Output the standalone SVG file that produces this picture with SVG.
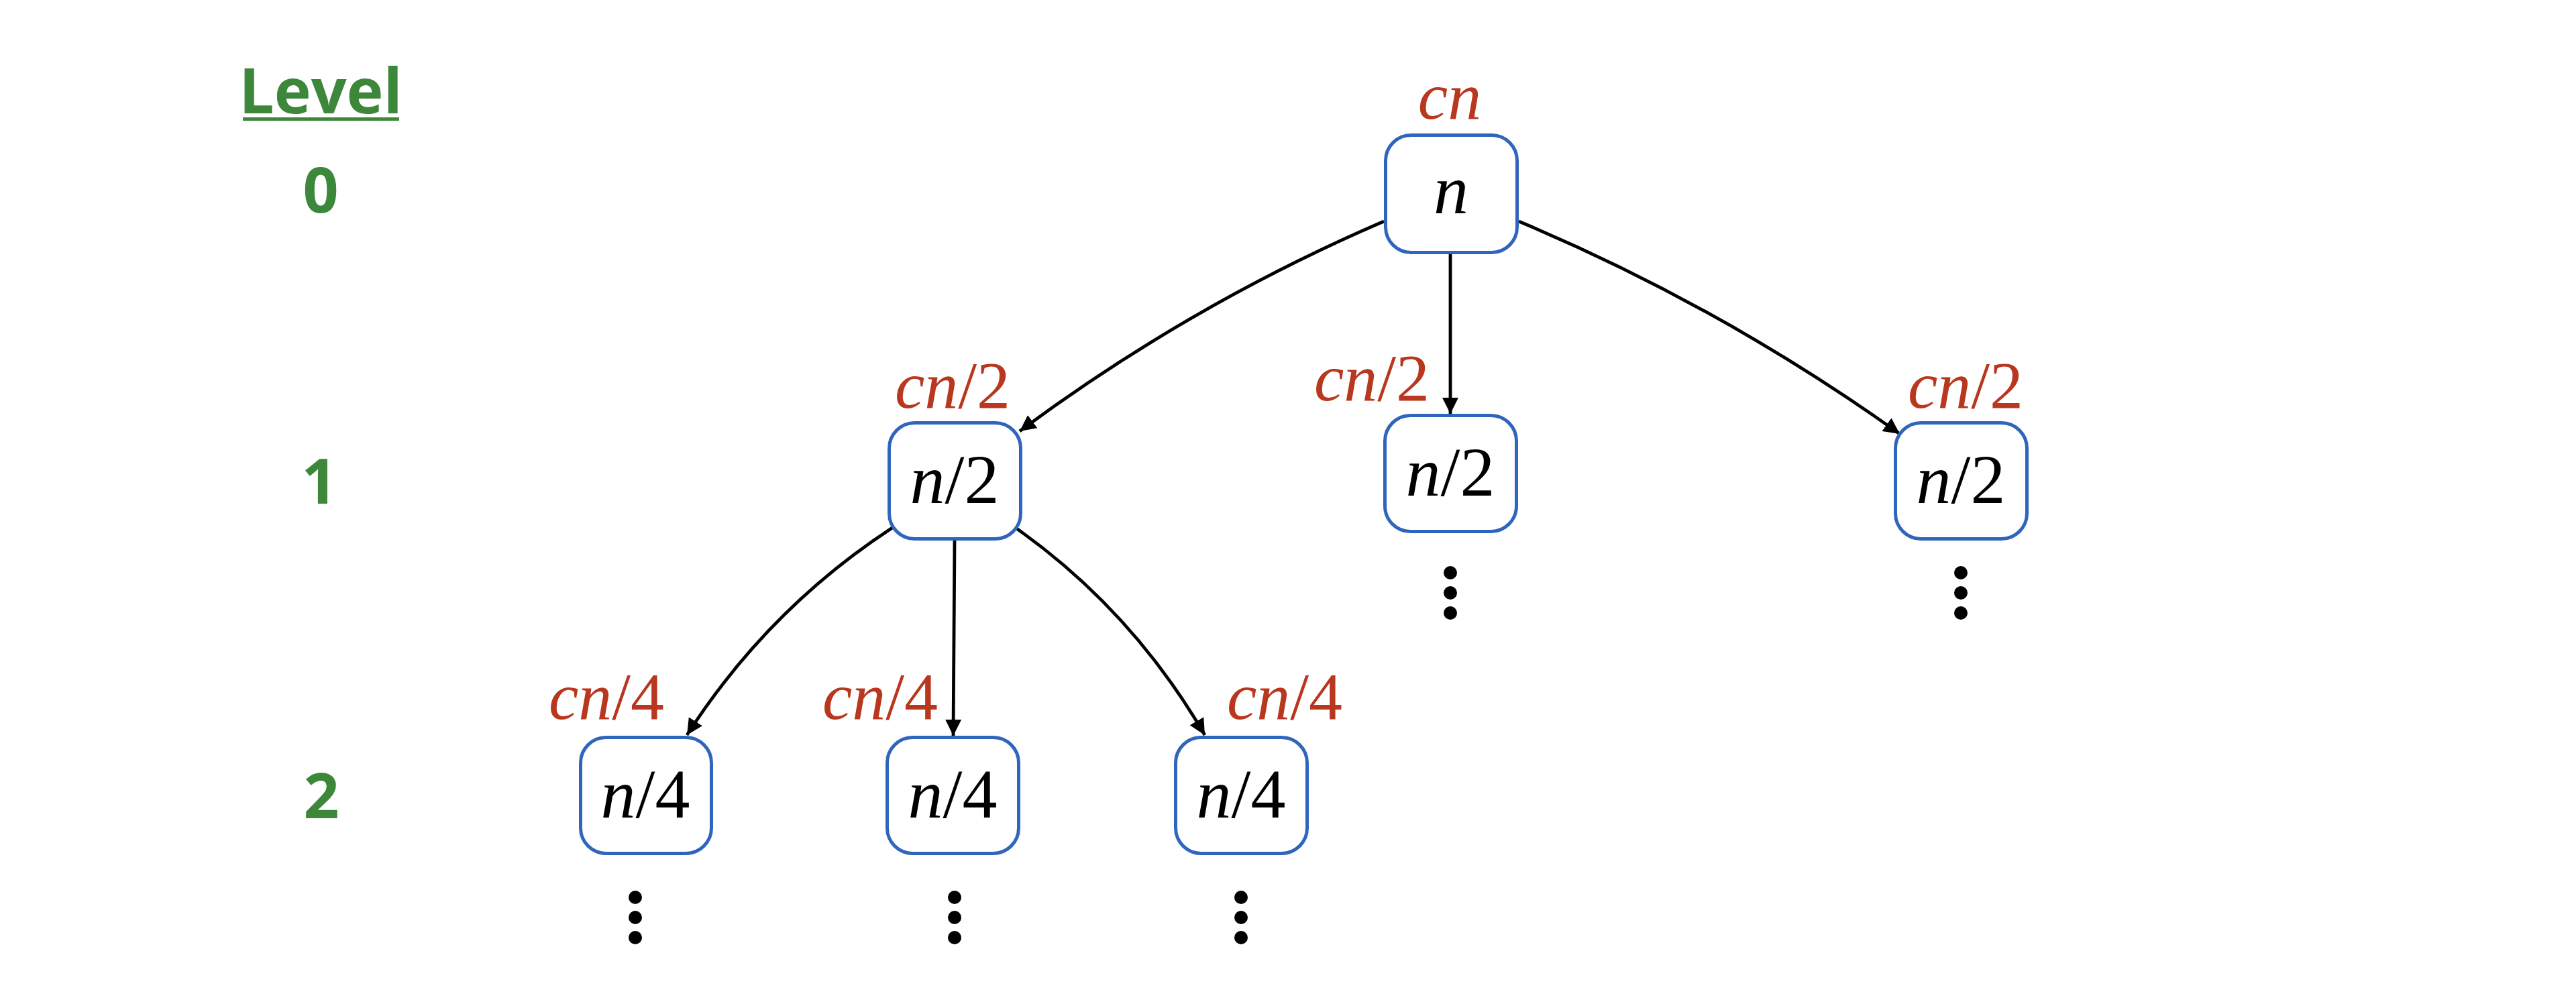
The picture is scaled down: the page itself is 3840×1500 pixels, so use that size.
<svg xmlns="http://www.w3.org/2000/svg" width="3840" height="1500" viewBox="0 0 3840 1500">
<style>
.box{fill:#fff;stroke:#2F65BD;stroke-width:5}
.val{font-family:"Liberation Serif","Times New Roman",serif;font-size:104px;fill:#000;text-anchor:middle}
.cost{font-family:"Liberation Serif","Times New Roman",serif;font-size:100px;fill:#B9361F;text-anchor:middle}
.lvl{font-family:"Open Sans",Lato,"Liberation Sans",sans-serif;font-weight:bold;font-size:93px;fill:#3C873A;text-anchor:middle}
.edge{fill:none;stroke:#000;stroke-width:4.8;marker-end:url(#arr)}
.dot{fill:#000}
</style>
<defs>
<marker id="arr" markerUnits="userSpaceOnUse" markerWidth="25" markerHeight="25" viewBox="0 0 25 25" refX="24" refY="12.5" orient="auto">
<path d="M0,0.5 L24,12.5 L0,24.5 z" fill="#000"/>
</marker>
</defs>
<rect width="3840" height="1500" fill="#fff"/>

<g id="levels">
<text class="lvl" x="478" y="169">Level</text>
<rect x="362" y="175" width="233" height="5" fill="#3C873A"/>
<text class="lvl" x="478" y="317">0</text>
<text class="lvl" x="476" y="751">1</text>
<text class="lvl" x="479" y="1220">2</text>
</g>

<g id="connectors">
<path class="edge" d="M2063,330 Q1773,455 1520,643"/>
<path class="edge" d="M2162,378 L2162,617"/>
<path class="edge" d="M2264,330 Q2566,457 2832,647"/>
<path class="edge" d="M1330,787 Q1144,909 1024,1096"/>
<path class="edge" d="M1423,805 L1421,1097"/>
<path class="edge" d="M1514,787 Q1687,909 1796,1096"/>
</g>

<g id="node-root">
<text class="cost" x="2161" y="177"><tspan font-style="italic">cn</tspan></text>
<rect class="box" x="2065.5" y="201.5" width="196" height="175" rx="38"/>
<text class="val" x="2163" y="318"><tspan font-style="italic">n</tspan></text>
</g>

<g id="node-l1-left">
<text class="cost" x="1420" y="608"><tspan font-style="italic">cn</tspan>/2</text>
<rect class="box" x="1325.5" y="630.5" width="196" height="173" rx="38"/>
<text class="val" x="1423" y="750"><tspan font-style="italic">n</tspan>/2</text>
</g>

<g id="node-l1-mid">
<text class="cost" x="2045" y="597"><tspan font-style="italic">cn</tspan>/2</text>
<rect class="box" x="2064.5" y="619.5" width="196" height="173" rx="38"/>
<text class="val" x="2162" y="739"><tspan font-style="italic">n</tspan>/2</text>
<circle class="dot" cx="2162" cy="854" r="10"/>
<circle class="dot" cx="2162" cy="884" r="10"/>
<circle class="dot" cx="2162" cy="914" r="10"/>
</g>

<g id="node-l1-right">
<text class="cost" x="2930" y="608"><tspan font-style="italic">cn</tspan>/2</text>
<rect class="box" x="2825.5" y="630.5" width="196" height="173" rx="38"/>
<text class="val" x="2923" y="750"><tspan font-style="italic">n</tspan>/2</text>
<circle class="dot" cx="2923" cy="854" r="10"/>
<circle class="dot" cx="2923" cy="884" r="10"/>
<circle class="dot" cx="2923" cy="914" r="10"/>
</g>

<g id="node-l2-left">
<text class="cost" x="904" y="1072"><tspan font-style="italic">cn</tspan>/4</text>
<rect class="box" x="865.5" y="1099.5" width="195" height="173" rx="38"/>
<text class="val" x="962" y="1219"><tspan font-style="italic">n</tspan>/4</text>
<circle class="dot" cx="947" cy="1338" r="10"/>
<circle class="dot" cx="947" cy="1368" r="10"/>
<circle class="dot" cx="947" cy="1398" r="10"/>
</g>

<g id="node-l2-mid">
<text class="cost" x="1312" y="1072"><tspan font-style="italic">cn</tspan>/4</text>
<rect class="box" x="1322.5" y="1099.5" width="196" height="173" rx="38"/>
<text class="val" x="1420" y="1219"><tspan font-style="italic">n</tspan>/4</text>
<circle class="dot" cx="1423" cy="1338" r="10"/>
<circle class="dot" cx="1423" cy="1368" r="10"/>
<circle class="dot" cx="1423" cy="1398" r="10"/>
</g>

<g id="node-l2-right">
<text class="cost" x="1915" y="1072"><tspan font-style="italic">cn</tspan>/4</text>
<rect class="box" x="1752.5" y="1099.5" width="196" height="173" rx="38"/>
<text class="val" x="1850" y="1219"><tspan font-style="italic">n</tspan>/4</text>
<circle class="dot" cx="1850" cy="1338" r="10"/>
<circle class="dot" cx="1850" cy="1368" r="10"/>
<circle class="dot" cx="1850" cy="1398" r="10"/>
</g>
</svg>
